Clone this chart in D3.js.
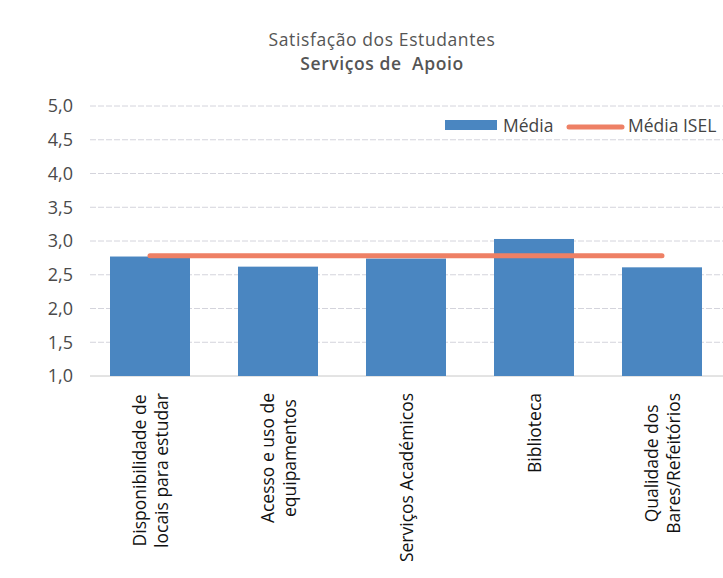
<!DOCTYPE html>
<html><head><meta charset="utf-8">
<script src="https://cdn.jsdelivr.net/npm/d3@7"></script>
<style>
html,body{margin:0;padding:0;background:#fff;}
svg{display:block;font-family:"Open Sans",Lato,sans-serif;}
</style></head>
<body>
<svg id="chart" width="723" height="578"></svg>
<script>
const categories = [
  ["Disponibilidade de","locais para estudar"],
  ["Acesso e uso de","equipamentos"],
  ["Serviços Académicos"],
  ["Biblioteca"],
  ["Qualidade dos","Bares/Refeitórios"]
];
const mediaValues = [2.77, 2.62, 2.74, 3.03, 2.61];
const mediaISEL = [2.78, 2.78, 2.78, 2.78, 2.78];
const yTicks = [1.0,1.5,2.0,2.5,3.0,3.5,4.0,4.5,5.0];
const titleLines = ["Satisfação dos Estudantes","Serviços de  Apoio"];
const legendLabels = ["Média","Média ISEL"];

const svg = d3.select("#chart");
const idx = d3.range(categories.length);
const x = d3.scaleBand().domain(idx).range([86,726]).paddingInner(0.375).paddingOuter(0.1875);
const y = d3.scaleLinear().domain([1,5]).range([376,106]);
const fmt = v => d3.format(".1f")(v).replace(".", ",");

// gridlines
svg.append("g").selectAll("line").data(yTicks).join("line")
  .attr("x1",90).attr("x2",723)
  .attr("y1",d=>y(d)).attr("y2",d=>y(d))
  .attr("stroke",d=>d===1?"#c8c8c8":"#d4d4dc")
  .attr("stroke-width",1)
  .attr("stroke-dasharray",d=>d===1?null:"6,2");

// y axis labels
const yAxis = d3.axisLeft(y).tickValues(yTicks).tickFormat(fmt).tickSize(0).tickPadding(0);
const ga = svg.append("g").attr("transform","translate(73,0)").call(yAxis);
ga.select(".domain").remove();
ga.selectAll("text").attr("font-size",18).attr("fill","#4a4a4a").attr("font-family","'Open Sans',sans-serif");

// bars
svg.append("g").selectAll("rect").data(mediaValues).join("rect")
  .attr("x",(d,i)=>x(i)).attr("width",x.bandwidth())
  .attr("y",d=>y(d)).attr("height",d=>y(1)-y(d))
  .attr("fill","#4a86c1");

// ISEL line
const line = d3.line().x((d,i)=>x(i)+x.bandwidth()/2).y(d=>y(d));
svg.append("path").datum(mediaISEL).attr("d",line)
  .attr("fill","none").attr("stroke","#ee8065").attr("stroke-width",5).attr("stroke-linecap","round");

// title
svg.append("g").selectAll("text").data(titleLines).join("text")
  .attr("x",382).attr("y",(d,i)=>46+i*24)
  .attr("text-anchor","middle").attr("font-size",17.5)
  .attr("letter-spacing",0.6)
  .attr("font-weight",(d,i)=>i===1?600:400)
  .attr("fill","#555").attr("xml:space","preserve").text(d=>d);

// legend
const lg = svg.append("g");
lg.append("rect").attr("x",445).attr("y",120).attr("width",52).attr("height",10).attr("fill","#4a86c1");
lg.append("text").attr("x",503).attr("y",132).attr("font-size",17.5).attr("fill","#444").text(legendLabels[0]);
lg.append("line").attr("x1",569).attr("x2",622).attr("y1",127).attr("y2",127)
  .attr("stroke","#ee8065").attr("stroke-width",5).attr("stroke-linecap","round");
lg.append("text").attr("x",628).attr("y",132).attr("font-size",17.5).attr("fill","#444").text(legendLabels[1]);

// category labels
const topY = 393, lh = 22, fs = 17.5;
categories.forEach((lines,i)=>{
  const cx = x(i)+x.bandwidth()/2;
  const g = svg.append("g");
  const texts = lines.map((t,j)=>g.append("text").attr("font-size",fs).attr("fill","#111").attr("text-anchor","middle").text(t));
  const maxW = d3.max(texts,t=>t.node().getComputedTextLength());
  const n = lines.length;
  texts.forEach((t,j)=>{
    const lx = cx + (j-(n-1)/2)*lh + 7;
    const ly = topY + maxW/2;
    t.attr("transform",`translate(${lx},${ly}) rotate(-90)`);
  });
});
</script>
</body></html>
